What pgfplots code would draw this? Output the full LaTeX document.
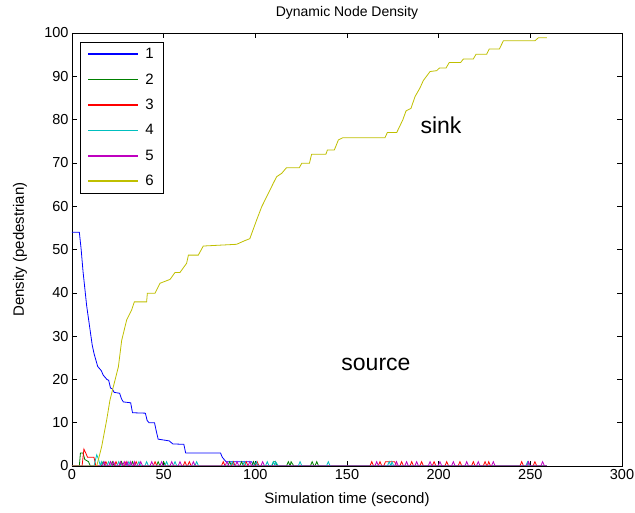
\documentclass[border=0pt]{standalone}
\usepackage{pgfplots}
\pgfplotsset{compat=1.18}
\usetikzlibrary{calc}
\usepackage{fontspec}
\setmainfont{Liberation Sans}
\definecolor{mblue}{rgb}{0,0,1}
\definecolor{mgreen}{rgb}{0,0.5,0}
\definecolor{mred}{rgb}{1,0,0}
\definecolor{mcyan}{rgb}{0,0.75,0.75}
\definecolor{mmag}{rgb}{0.75,0,0.75}
\definecolor{myel}{rgb}{0.75,0.75,0}
\begin{document}
\begin{tikzpicture}
\begin{axis}[
  name=ax,
  scale only axis,
  width=550pt, height=433pt,
  xmin=0, xmax=300, ymin=0, ymax=100,
  xtick={0,50,...,300}, ytick={0,10,...,100},
  tick align=inside, major tick length=5pt,
  tick style={black, line width=0.5pt},
  axis line style={line width=0.6pt},
  ticklabel style={font=\fontsize{14.5}{16}\selectfont},
  /pgf/number format/assume math mode=true,
  every axis plot/.append style={line width=0.8pt, mark=none},
  legend style={at={(rel axis cs:0,1)}, anchor=north west,
    xshift=8pt, yshift=-9pt, draw=black, line width=0.5pt,
    font=\fontsize{15}{17}\selectfont, row sep=9.5pt,
    inner xsep=7pt, inner ysep=4pt},
  legend cell align=left,
  legend image code/.code={\draw[#1, line width=1.6pt] (0pt,0pt) -- (50pt,0pt); \path (55pt,0pt);},
]
% 1
\addplot[color=mblue] coordinates {
(0,54)(4,54)(5,50)(6,45)(7,41)(8,37)(9,34)(10,31)(11,28)(12,26)(13,24.5)(14,23)(15,22.5)(16,22)(17,21)(18,20.5)(19,20)(20,19.8)(21,18)(22,17.8)(23,17)(26,16.8)(27,15.5)(28,14.8)(32,14.6)(33,12.3)(40,12.2)(41,10.5)(42,10)(45,10)(46,8)(47,6.2)(50,6)(53,5.8)(55,5.1)(61,5)(62,3)(81,3)(82,2)(84,1)(98,1)(99,0)(259,0)
};
\addlegendentry{1}
% 2
\addplot[color=mgreen] coordinates {
(0,0)(4,0)(4.6,3)(6,3)(7,1.5)(9,1)(10,0)
(16,0)(17,1)(18,0)(21,0)(22,1)(23,0)(26,0)(27,1)(28,0)(32,0)(33,1)(34,0)
(46,0)(47,1)(48,0)(49,0)(50,1)(51,0)
(85,0)(86,1)(87,0)(91.5,0)(92.5,1)(93.5,0)(98,0)(99,1)(100,0)(109,0)(110,1)(111,1)(112,0)
(117,0)(118,1)(119,0)(119.5,1)(121,0)(130,0)(131,1)(132,0)(132.5,0)(133.5,1)(134.5,0)
(259,0)
};
\addlegendentry{2}
% 3
\addplot[color=mred] coordinates {
(0,0)(5.5,0)(6.5,3.9)(7.5,3)(8.5,2)(12,2)(13,0)
(17.5,0)(18.5,1)(19.5,0)(23,0)(24,1)(25,0)(28.5,0)(29.5,1)(30.5,0)(34,0)(35,1)(36,0)
(44.3,0)(45.3,1)(46.3,0)(60.6,0)(61.6,1)(62.6,0)(63,0)(64,1)(65,0)
(81.5,0)(82.5,1)(83.5,0)(87,0)(88,1)(89,0)(94,0)(95,1)(96,0)(100,0)(101,1)(102,0)
(162.5,0)(163.5,1)(164.5,0)(167,0)(168,1)(169,0)(170,0)(171,1)(176,1)(177,0)
(178.8,0)(179.8,1)(180.8,0)(184.3,0)(185.3,1)(186.3,0)(189.7,0)(190.7,1)(191.7,0)
(196.5,0)(197.5,1)(198.5,0)(203.4,0)(204.4,1)(205.4,0)(210.6,0)(211.6,1)(212.6,0)
(217.9,0)(218.9,1)(219.9,0)(224.3,0)(225.3,1)(226.3,0)(226.5,0)(227.3,1)(228.3,0)
(244.3,0)(245.3,1)(246.3,0)(251.5,0)(252.5,1)(253.5,0)
(259,0)
};
\addlegendentry{3}
% 4
\addplot[color=mcyan] coordinates {
(0,0)(12,0)(13.5,2.6)(14.5,1.5)(15.5,0)(16,1)(17,0)
(19,0)(20,1)(21,0)(24.5,0)(25.5,1)(26.5,0)(30,0)(31,1)(32,0)(35.5,0)(36.5,1)(37.5,0)
(39.7,0)(40.7,1)(41.7,0)(50.6,0)(51.6,1)(52.6,0)(55.2,0)(56.2,1)(57.2,0)(67,0)(68,1)(69,0)
(86.5,0)(87.5,1)(88.5,0)(93,0)(94,1)(95,0)(99.5,0)(100.5,1)(101.5,0)(105.5,0)(106.5,1)(107.5,0)
(108.8,0)(109.8,1)(110.8,0)(111,1)(112.6,0)(123.4,0)(124.4,1)(125.4,0)(138.8,0)(139.8,1)(140.8,0)
(172,0)(173,1)(174,0)(174.5,1)(175.5,0)(247.5,0)(248.5,1)(249.5,0)
(259,0)
};
\addlegendentry{4}
% 5
\addplot[color=mmag] coordinates {
(0,0)(16.5,0)(17.5,1)(18.5,0)(20,0)(21,1)(22,0)(22.5,1)(24,0)(25.5,0)(26.5,1)(27.5,0)(28.5,1)(29.5,0)
(30,1)(31,0)(31.5,0)(32,1)(33,0)(33.5,0)(34,1)(35,0)(36.5,0)(37.5,1)(38.5,0)
(42.5,0)(43.5,1)(44.5,0)(47.9,0)(48.9,1)(49.9,0)(53.4,0)(54.4,1)(55.4,0)(57.9,0)(58.9,1)(59.9,0)(65.2,0)(66.2,1)(67.2,0)
(83.5,0)(84.5,1)(85.5,0)(89,0)(90,1)(91,0)(96,0)(97,1)(98,0)(103,0)(104,1)(105,0)
(165.2,0)(166.2,1)(167.2,0)(176,0)(177,1)(178,0)(181.5,0)(182.5,1)(183.5,0)(187,0)(188,1)(189,0)
(194.3,0)(195.3,1)(196.3,0)(199.7,0)(200.7,1)(201.7,0)(207,0)(208,1)(209,0)(214.3,0)(215.3,1)(216.3,0)
(220.6,0)(221.6,1)(222.6,0)(228.8,0)(229.8,1)(230.8,0)(248,0)(249,1)(250,0)(255.7,0)(256.7,1)(257.7,0)
(259,0)
};
\addlegendentry{5}
% 6
\addplot[color=myel] coordinates {
(0,0)(13.5,0)(16.2,4.5)(18.9,10.6)(20.7,15.2)(23.5,19.9)(25.3,22.9)(27.1,29)(29.8,33.7)(32.5,36)(34,37.9)(40.7,37.9)(41.1,39.9)(45.3,39.9)(48,42.2)(53.5,43.1)(56.2,44.7)(58.9,44.7)(62.5,46.8)(63.5,48.7)(68.9,48.7)(71.6,50.8)(89.8,51.2)(94,52)(97,52.5)
(100.7,56.8)(103.5,59.9)(106.2,62.2)(109.8,65.3)(111.6,66.8)(114.4,67.6)(117,68.9)(124,68.9)(125.3,69.9)(129.5,69.9)(130.7,72)(138.5,72)(139.3,73)(143.1,73)(145.3,75.3)(147.6,75.8)(170.7,75.8)(172,77)(177.1,77)(180.4,79.9)(182.2,82)(184.9,82.6)(187.1,85.3)(189.8,87.3)(191.6,89)(195.3,91.1)(198.9,91.3)(200.4,91.9)(204,91.9)(205.8,93.2)(212,93.2)(213.5,94)(218.9,94)(220.4,95.1)(226.2,95.1)(227.6,96.3)(233.1,96.3)(235.3,98.2)(252.5,98.2)(254.4,98.9)(259,98.9)
};
\addlegendentry{6}
\node[font=\fontsize{23}{26}\selectfont] at (axis cs:201.3,78.7) {sink};
\node[font=\fontsize{23}{26}\selectfont] at (axis cs:165.8,23.5) {source};
\end{axis}
\node[font=\fontsize{14}{16}\selectfont] at ($(ax.north)+(0,20pt)$) {Dynamic Node Density};
\node[font=\fontsize{15}{17}\selectfont] at ($(ax.south)+(0,-34pt)$) {Simulation time (second)};
\node[font=\fontsize{15}{17}\selectfont, rotate=90] at ($(ax.west)+(-52pt,0)$) {Density (pedestrian)};
\pgfresetboundingbox
\path (ax.south west) +(-72pt,-47pt) rectangle +(563pt,466pt);
\end{tikzpicture}
\end{document}
